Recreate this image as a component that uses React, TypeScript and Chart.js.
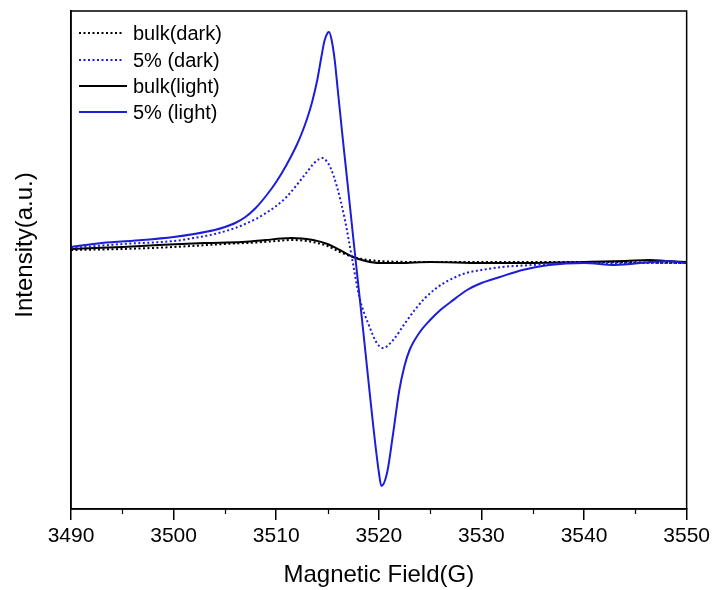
import React, { useEffect, useRef } from "react";
import { Chart, registerables } from "chart.js";

Chart.register(...registerables);

// Magnetic field (G) and intensity (a.u.) for each trace
const bulkDarkField = [3490, 3495, 3500, 3505, 3508, 3510, 3511.6, 3513, 3514, 3515, 3516.2, 3517.5, 3519, 3520, 3525, 3530, 3540, 3550];
const bulkDarkIntensity = [12, 13, 15, 18, 19.5, 21, 22, 21, 19, 16, 10, 5, 2, 1, 0, 0, 0, -1];

const fiveDarkField = [3490, 3495, 3500, 3502, 3504, 3506, 3508, 3509, 3510, 3511, 3512, 3513, 3513.7, 3514.2, 3514.5, 3514.9, 3515.3, 3515.9, 3516.7, 3517.4, 3518.1, 3519.1, 3519.8, 3520.4, 3521.4, 3522.5, 3523.5, 3524.5, 3525.5, 3526.5, 3527.5, 3528.5, 3530, 3532, 3535, 3538, 3545, 3550];
const fiveDarkIntensity = [14, 18, 21, 24, 28, 34, 43, 49, 56, 65, 77, 90, 99, 103, 104, 101, 94, 76, 42, 3, -35, -65, -81, -86, -78, -62, -48, -36, -27, -20, -15, -11, -8, -5, -3, -1, -1, -1];

const bulkLightField = [3490, 3495, 3498.5, 3503, 3506.7, 3509, 3510.5, 3511.5, 3512.5, 3513.6, 3515, 3516.2, 3517.5, 3518.7, 3520.1, 3522, 3525, 3530, 3535, 3540, 3544, 3546.4, 3548, 3550];
const bulkLightIntensity = [13, 15, 17, 19, 20, 22, 23.5, 24, 23.5, 22, 18, 12, 5, 1, -1, -1, 0, -1, -1, 0, 1, 2, 1, 0];

const fiveLightField = [3490, 3493, 3497, 3500, 3502, 3504, 3505, 3506, 3507, 3508, 3509, 3510, 3511, 3512, 3512.5, 3513, 3513.5, 3514, 3514.4, 3514.7, 3515, 3515.15, 3515.4, 3515.7, 3516, 3516.5, 3517, 3517.5, 3518, 3518.5, 3519, 3519.5, 3520, 3520.25, 3520.8, 3521.4, 3522, 3522.5, 3523, 3524, 3525, 3526, 3527, 3528.6, 3530, 3531.8, 3534, 3536.6, 3540, 3543, 3546.5, 3548, 3550];
const fiveLightIntensity = [15, 19, 22, 25, 28, 32, 35, 39, 45, 54, 66, 80, 97, 117, 129, 143, 160, 182, 205, 221, 229, 230, 222, 202, 172, 122, 74, 25, -23, -71, -120, -168, -210, -224, -211, -171, -128, -104, -88, -70, -58, -48, -40, -28, -21, -15, -8, -3, -1, -3, 0, 1, -1];

const seriesLabels = ["bulk(dark)", "5% (dark)", "bulk(light)", "5% (light)"];
const xTitle = "Magnetic Field(G)";
const yTitle = "Intensity(a.u.)";
const xTickMin = 3490;
const xTickMax = 3550;
const xTickStep = 10;

const BLUE = "#1c1cd9";
const FONT = "'Liberation Sans', Arial, sans-serif";

function pts(xs: number[], ys: number[]) {
  return xs.map((x, i) => ({ x, y: ys[i] }));
}

const legendStyles = [
  { color: "#000", dash: [2, 2.5] },
  { color: BLUE, dash: [2, 2.5] },
  { color: "#000", dash: [] as number[] },
  { color: BLUE, dash: [] as number[] },
];

const framePlugin = {
  id: "frameAndLegend",
  afterDraw(chart: any) {
    const { ctx, chartArea } = chart;
    const { left, right, top, bottom } = chartArea;
    const xs = chart.scales.x;
    ctx.save();
    ctx.strokeStyle = "#000";
    ctx.lineWidth = 1.5;
    ctx.setLineDash([]);
    ctx.strokeRect(left, top, right - left, bottom - top);
    ctx.lineWidth = 1.2;
    for (let v = xTickMin + xTickStep / 2; v < xTickMax; v += xTickStep) {
      const px = Math.round(xs.getPixelForValue(v)) + 0.5;
      ctx.beginPath();
      ctx.moveTo(px, bottom);
      ctx.lineTo(px, bottom + 5);
      ctx.stroke();
    }
    // y-axis title
    ctx.save();
    ctx.translate(25, (top + bottom) / 2 - 15);
    ctx.rotate(-Math.PI / 2);
    ctx.font = "24px " + FONT;
    ctx.fillStyle = "#000";
    ctx.textAlign = "center";
    ctx.textBaseline = "middle";
    ctx.fillText(yTitle, 0, 0);
    ctx.restore();
    // legend
    ctx.font = "20px " + FONT;
    ctx.textBaseline = "middle";
    ctx.textAlign = "left";
    ctx.fillStyle = "#000";
    const rows = [33, 60, 86, 112];
    seriesLabels.forEach((lab, i) => {
      const st = legendStyles[i];
      ctx.strokeStyle = st.color;
      ctx.lineWidth = 2;
      ctx.setLineDash(st.dash);
      ctx.beginPath();
      ctx.moveTo(left + 8, rows[i]);
      ctx.lineTo(left + (st.dash.length ? 52 : 56), rows[i]);
      ctx.stroke();
      ctx.setLineDash([]);
      ctx.fillText(lab, left + 62, rows[i] + 1);
    });
    ctx.restore();
  },
};

export default function App() {
  const ref = useRef<HTMLCanvasElement>(null);
  useEffect(() => {
    if (!ref.current) return;
    const chart = new Chart(ref.current, {
      type: "line",
      data: {
        datasets: [
          {
            label: seriesLabels[3],
            data: pts(fiveLightField, fiveLightIntensity),
            borderColor: BLUE,
            borderWidth: 2,
          },
          {
            label: seriesLabels[1],
            data: pts(fiveDarkField, fiveDarkIntensity),
            borderColor: BLUE,
            borderWidth: 2,
            borderDash: [2, 2.5],
          },
          {
            label: seriesLabels[2],
            data: pts(bulkLightField, bulkLightIntensity),
            borderColor: "#000",
            borderWidth: 2,
          },
          {
            label: seriesLabels[0],
            data: pts(bulkDarkField, bulkDarkIntensity),
            borderColor: "#000",
            borderWidth: 2,
            borderDash: [2, 2.5],
          },
        ] as any,
      },
      options: {
        animation: false,
        responsive: true,
        maintainAspectRatio: false,
        parsing: false as any,
        elements: {
          point: { radius: 0 },
          line: { cubicInterpolationMode: "monotone", fill: false },
        },
        layout: { padding: { top: 11, right: 27, left: 0, bottom: 0 } },
        plugins: {
          legend: { display: false },
          tooltip: { enabled: false },
        },
        scales: {
          x: {
            type: "linear",
            min: xTickMin,
            max: xTickMax,
            ticks: {
              stepSize: xTickStep,
              color: "#000",
              font: { family: FONT, size: 21 },
              padding: 4,
              maxRotation: 0,
              callback: (v: any) => String(v),
            },
            grid: {
              drawOnChartArea: false,
              drawTicks: true,
              tickLength: 11,
              color: "#000",
              lineWidth: 1.5,
            },
            border: { display: true, color: "#000", width: 1.5 },
            title: {
              display: true,
              text: xTitle,
              color: "#000",
              font: { family: FONT, size: 24 },
              padding: { top: 0, bottom: 0 },
            },
            afterFit: (s: any) => {
              s.height = 81;
            },
          },
          y: {
            type: "linear",
            min: -247,
            max: 251,
            ticks: { display: false },
            grid: { display: false },
            border: { display: true, color: "#000", width: 1.5 },
            title: { display: false },
            afterFit: (s: any) => {
              s.width = 71;
            },
          },
        },
      },
      plugins: [framePlugin],
    });
    return () => chart.destroy();
  }, []);
  return (
    <div style={{ position: "absolute", left: 0, top: 0, width: 714, height: 590, background: "#fff" }}>
      <canvas ref={ref} />
    </div>
  );
}
